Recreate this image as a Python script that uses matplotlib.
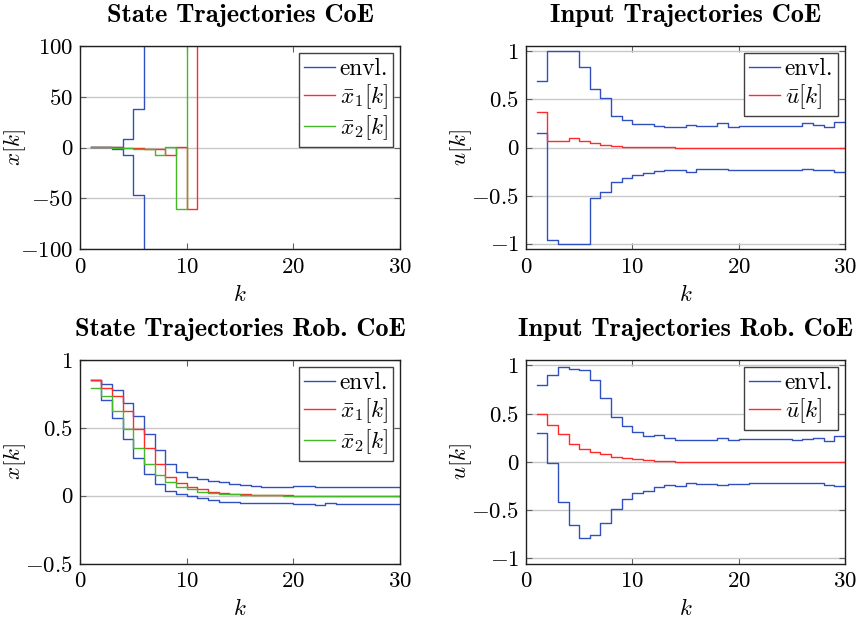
import numpy as np
import matplotlib
matplotlib.use("Agg")
import matplotlib.pyplot as plt
from matplotlib.ticker import FuncFormatter

plt.rcParams['font.family'] = ['cmr10', 'DejaVu Serif']
plt.rcParams['mathtext.fontset'] = 'cm'
plt.rcParams['axes.formatter.use_mathtext'] = True
plt.rcParams['axes.unicode_minus'] = True

k = np.arange(1, 31)

# ---- State Trajectories CoE ----
tl_env_up = [0.9, 0.9, 0.9, 8.2, 38.0, 1.9e2, 9.4e2, 4.6e3, 2.3e4, 1.1e5, 5.6e5, 2.8e6, 1.4e7, 6.8e7, 3.4e8,
             1.7e9, 8.3e9, 4.1e10, 2.0e11, 1.0e12, 5.0e12, 2.5e13, 1.2e14, 6.0e14, 3.0e15, 1.5e16, 7.3e16,
             3.6e17, 1.8e18, 8.8e18]
tl_env_lo = [0.9, 0.9, -1.0, -7.2, -46.4, -2.3e2, -1.1e3, -5.5e3, -2.7e4, -1.3e5, -6.6e5, -3.2e6, -1.6e7,
             -7.9e7, -3.9e8, -1.9e9, -9.4e9, -4.6e10, -2.3e11, -1.1e12, -5.5e12, -2.7e13, -1.3e14, -6.5e14,
             -3.2e15, -1.6e16, -7.8e16, -3.8e17, -1.9e18, -9.2e18]
tl_x1 = [0.9, 0.6, 0.2, -0.2, -0.3, -1.0, -1.6, -7.8, 0.3, -60.5, 6.2e2, 3.1e3, 1.5e4, 7.4e4, 3.6e5,
         1.8e6, 8.8e6, 4.3e7, 2.1e8, 1.0e9, 5.1e9, 2.5e10, 1.2e11, 6.0e11, 2.9e12, 1.4e13, 7.0e13,
         3.4e14, 1.7e15, 8.2e15]
tl_x2 = [0.6, 0.2, -0.2, -0.3, -1.0, -1.6, -7.8, 0.3, -60.5, 6.2e2, 3.1e3, 1.5e4, 7.4e4, 3.6e5, 1.8e6,
         8.8e6, 4.3e7, 2.1e8, 1.0e9, 5.1e9, 2.5e10, 1.2e11, 6.0e11, 2.9e12, 1.4e13, 7.0e13, 3.4e14,
         1.7e15, 8.2e15, 4.0e16]

# ---- Input Trajectories CoE ----
tr_env_up = [0.69, 1.0, 1.0, 1.0, 0.84, 0.61, 0.51, 0.33, 0.29, 0.24, 0.24, 0.22, 0.21, 0.21, 0.23,
             0.22, 0.22, 0.25, 0.21, 0.22, 0.22, 0.22, 0.22, 0.22, 0.22, 0.25, 0.23, 0.21, 0.26, 0.26]
tr_env_lo = [0.155, -0.96, -1.0, -1.0, -1.0, -0.52, -0.46, -0.36, -0.32, -0.29, -0.27, -0.24, -0.23,
             -0.23, -0.25, -0.22, -0.22, -0.22, -0.23, -0.23, -0.23, -0.23, -0.23, -0.23, -0.23, -0.22,
             -0.23, -0.23, -0.25, -0.25]
tr_u = [0.37, 0.072, 0.072, 0.097, 0.069, 0.045, 0.028, 0.017, 0.01, 0.007, 0.004, 0.002, 0.001, 0.0,
        0.0, 0.0, 0.0, 0.0, 0.0, 0.0, 0.0, 0.0, 0.0, 0.0, 0.0, 0.0, 0.0, 0.0, 0.0, 0.0]

# ---- State Trajectories Rob. CoE ----
bl_env_up = [0.85, 0.826, 0.78, 0.686, 0.59, 0.458, 0.336, 0.233, 0.176, 0.14, 0.12, 0.108, 0.098,
             0.083, 0.078, 0.074, 0.066, 0.066, 0.066, 0.068, 0.068, 0.066, 0.066, 0.064, 0.064, 0.066,
             0.066, 0.066, 0.066, 0.066]
bl_env_lo = [0.85, 0.708, 0.574, 0.42, 0.275, 0.16, 0.083, 0.034, 0.01, -0.002, -0.02, -0.03, -0.05,
             -0.045, -0.051, -0.051, -0.056, -0.056, -0.056, -0.06, -0.062, -0.068, -0.056, -0.058,
             -0.058, -0.058, -0.06, -0.06, -0.06, -0.06]
bl_x1 = [0.85, 0.797, 0.733, 0.625, 0.495, 0.353, 0.233, 0.14, 0.096, 0.066, 0.047, 0.03, 0.022, 0.015,
         0.01, 0.007, 0.005, 0.003, 0.002, 0.001, 0.0, 0.0, 0.0, 0.0, 0.0, 0.0, 0.0, 0.0, 0.0, 0.0]
bl_x2 = [0.797, 0.733, 0.625, 0.495, 0.353, 0.233, 0.152, 0.098, 0.066, 0.047, 0.03, 0.022, 0.015, 0.01,
         0.007, 0.005, 0.003, 0.002, 0.001, 0.0, 0.0, 0.0, 0.0, 0.0, 0.0, 0.0, 0.0, 0.0, 0.0, 0.0]

# ---- Input Trajectories Rob. CoE ----
br_env_up = [0.793, 0.897, 0.983, 0.966, 0.948, 0.852, 0.662, 0.466, 0.369, 0.31, 0.266, 0.276, 0.248,
             0.224, 0.224, 0.224, 0.224, 0.248, 0.224, 0.231, 0.241, 0.241, 0.231, 0.231, 0.224, 0.241,
             0.248, 0.217, 0.266, 0.266]
br_env_lo = [0.3, -0.017, -0.42, -0.655, -0.786, -0.759, -0.638, -0.49, -0.39, -0.328, -0.3, -0.259,
             -0.241, -0.252, -0.224, -0.231, -0.231, -0.241, -0.234, -0.231, -0.224, -0.224, -0.224,
             -0.217, -0.224, -0.217, -0.224, -0.241, -0.248, -0.248]
br_u = [0.5, 0.379, 0.283, 0.183, 0.131, 0.103, 0.076, 0.045, 0.034, 0.024, 0.014, 0.007, 0.003, 0.001,
        0.0, 0.0, 0.0, 0.0, 0.0, 0.0, 0.0, 0.0, 0.0, 0.0, 0.0, 0.0, 0.0, 0.0, 0.0, 0.0]

titles = ["State Trajectories CoE", "Input Trajectories CoE",
          "State Trajectories Rob. CoE", "Input Trajectories Rob. CoE"]

BLUE = '#3050c0'
RED = '#ff2a2a'
GREEN = '#44b828'
FS = 16.5
LFS = 16.8
LW = 1.0

W, H = 864, 622
fig = plt.figure(figsize=(W / 100, H / 100), dpi=100)

def make_ax(x0, x1, y0, y1):
    return fig.add_axes([x0 / W, 1 - y1 / H, (x1 - x0) / W, (y1 - y0) / H])

axes = [make_ax(80, 400, 46, 249), make_ax(526, 845, 46, 249),
        make_ax(80, 400, 360, 563.5), make_ax(526, 845, 360, 563.5)]

fmt = FuncFormatter(lambda v, p: '$%g$' % v)

def style(ax, title, ylabel, ylim, yticks):
    ax.set_xlim(0, 30)
    ax.set_ylim(*ylim)
    ax.set_xticks([0, 10, 20, 30])
    ax.set_yticks(yticks)
    ax.xaxis.set_major_formatter(fmt)
    ax.yaxis.set_major_formatter(fmt)
    ax.yaxis.grid(True, color='#c8c8c8', lw=1.0)
    ax.set_axisbelow(True)
    ax.tick_params(direction='in', top=True, right=True, length=4, width=0.8,
                   labelsize=FS, color='#606060')
    ax.tick_params(axis='x', pad=6)
    ax.tick_params(axis='y', pad=5)
    for s in ax.spines.values():
        s.set_linewidth(1.0)
        s.set_color('#202020')
    ax.set_title(title, fontsize=19, fontfamily='cmb10', pad=17)
    ax.set_xlabel('$k$', fontsize=FS, labelpad=5)
    ax.set_ylabel(ylabel, fontsize=FS)
    ax.yaxis.set_label_coords(-0.163, 0.5)

def legend(ax, labels_lines):
    leg = ax.legend(handles=labels_lines, loc='upper right', fontsize=LFS, frameon=True,
                    fancybox=False, framealpha=1, edgecolor='#404040', borderaxespad=0.3,
                    handlelength=1.33, handletextpad=0.2, labelspacing=0.1, borderpad=0.2)
    leg.get_frame().set_linewidth(1.0)

# Top-left
ax = axes[0]
h1, = ax.step(k, tl_env_up, where='post', color=BLUE, lw=LW, label='envl.')
ax.step(k, tl_env_lo, where='post', color=BLUE, lw=LW)
h2, = ax.step(k, tl_x1, where='post', color=RED, lw=LW, label=r'$\bar{x}_1[k]$')
h3, = ax.step(k, tl_x2, where='post', color=GREEN, lw=LW, label=r'$\bar{x}_2[k]$')
style(ax, titles[0], '$x[k]$', (-100, 100), [-100, -50, 0, 50, 100])
legend(ax, [h1, h2, h3])

# Top-right
ax = axes[1]
h1, = ax.step(k, tr_env_up, where='post', color=BLUE, lw=LW, label='envl.')
ax.step(k, tr_env_lo, where='post', color=BLUE, lw=LW)
h2, = ax.step(k, tr_u, where='post', color=RED, lw=LW, label=r'$\bar{u}[k]$')
style(ax, titles[1], '$u[k]$', (-1.055, 1.055), [-1, -0.5, 0, 0.5, 1])
legend(ax, [h1, h2])

# Bottom-left
ax = axes[2]
h1, = ax.step(k, bl_env_up, where='post', color=BLUE, lw=LW, label='envl.')
ax.step(k, bl_env_lo, where='post', color=BLUE, lw=LW)
h2, = ax.step(k, bl_x1, where='post', color=RED, lw=LW, label=r'$\bar{x}_1[k]$')
h3, = ax.step(k, bl_x2, where='post', color=GREEN, lw=LW, label=r'$\bar{x}_2[k]$')
style(ax, titles[2], '$x[k]$', (-0.5, 1.0), [-0.5, 0, 0.5, 1])
legend(ax, [h1, h2, h3])

# Bottom-right
ax = axes[3]
h1, = ax.step(k, br_env_up, where='post', color=BLUE, lw=LW, label='envl.')
ax.step(k, br_env_lo, where='post', color=BLUE, lw=LW)
h2, = ax.step(k, br_u, where='post', color=RED, lw=LW, label=r'$\bar{u}[k]$')
style(ax, titles[3], '$u[k]$', (-1.055, 1.055), [-1, -0.5, 0, 0.5, 1])
legend(ax, [h1, h2])

fig.savefig('out.png', dpi=100)
